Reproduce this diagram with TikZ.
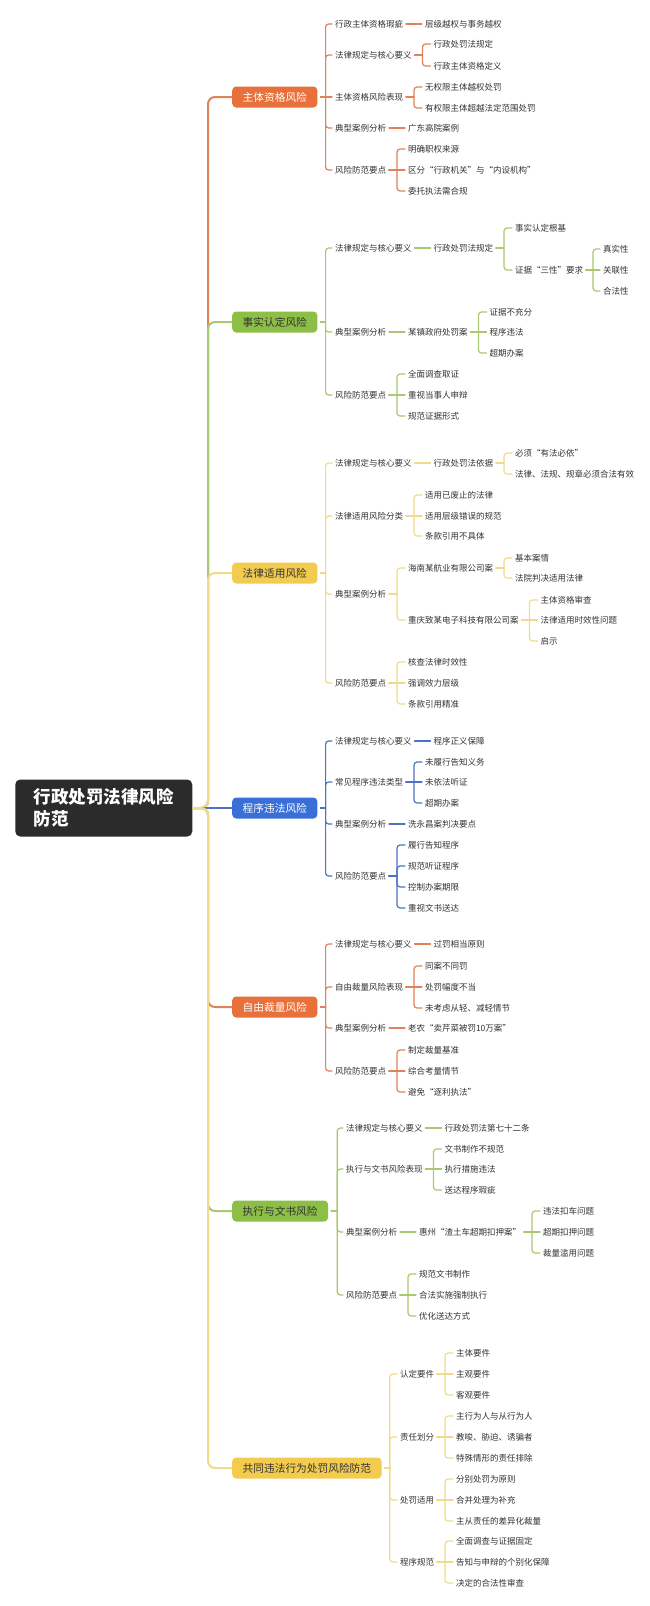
\documentclass[tikz,border=0pt]{standalone}
\usepackage{fontspec}
\newfontfamily\cjk{Noto Sans CJK SC}
\usetikzlibrary{calc}
\definecolor{cOr}{HTML}{E8703A}
\definecolor{cGr}{HTML}{8DBF46}
\definecolor{cYe}{HTML}{F3CB4F}
\definecolor{cBl}{HTML}{3A6FD8}
\definecolor{lOr}{HTML}{E0825A}
\definecolor{lGr}{HTML}{A9C870}
\definecolor{lYe}{HTML}{F1DB8A}
\definecolor{lBl}{HTML}{4E72C6}
\definecolor{rootc}{HTML}{2B2B2B}
\definecolor{leafc}{HTML}{333333}
\newcommand\kid[5][22]{\node[leaf] (#3) at ($(#2.east |- 0,#4)+(#1,0)$) {#5};}
\newcommand\lnk[4][11]{%
  \draw[lk,#2] ($(#3.east)+(3,0)$) -- ($(#3.east)+(#1,0)$);
  \draw[lk,#2,rounded corners=3pt] ($(#3.east)+(#1,0)$) |- ($(#4.west)+(-3,0)$);}
\newcommand\slnk[3]{\draw[lk,#1] ($(#2.east)+(3,0)$) -- ($(#3.west)+(-3,0)$);}
\begin{document}
\begin{tikzpicture}[x=1pt,y=-1pt,
  leaf/.style={font=\cjk\fontsize{8.5}{10}\selectfont, text=leafc, inner sep=0pt, outer sep=0pt, text height=7.1pt, text depth=0.6pt, anchor=west},
  mainbox/.style={font=\cjk\fontsize{10.7}{12}\selectfont, rounded corners=4pt, inner xsep=10.5pt, inner ysep=0pt, minimum height=21pt, text height=8.9pt, text depth=0.75pt, anchor=west},
  rootbox/.style={font=\cjk\bfseries\fontsize{17.5}{22}\selectfont, fill=rootc, text=white, rounded corners=5pt, align=left, minimum width=177pt, minimum height=57pt, inner sep=0pt},
  lk/.style={line width=1.2pt, line cap=round},
  trunk/.style={line width=2pt, rounded corners=7pt}
]
\useasboundingbox[fill=white] (0,0) rectangle (649,1606);

\node[rootbox] (root) at (103.75,808) {行政处罚法律风险\\防范};

% main nodes
\node[mainbox,fill=cOr,text=white] (b1) at (232,97) {主体资格风险};
\node[mainbox,fill=cGr,text=leafc] (b2) at (232,322) {事实认定风险};
\node[mainbox,fill=cYe,text=leafc] (b3) at (232,573) {法律适用风险};
\node[mainbox,fill=cBl,text=white] (b4) at (232,808) {程序违法风险};
\node[mainbox,fill=cOr,text=white] (b5) at (232,1007) {自由裁量风险};
\node[mainbox,fill=cGr,text=leafc] (b6) at (232,1211) {执行与文书风险};
\node[mainbox,fill=cYe,text=leafc] (b7) at (232,1468) {共同违法行为处罚风险防范};

% trunk
\draw[trunk,lOr] (root.east) -- (208,808) -- (208,97) -- (b1.west);
\draw[trunk,lGr] (root.east) -- (208,808) -- (208,322) -- (b2.west);
\draw[trunk,lYe] (root.east) -- (208,808) -- (208,573) -- (b3.west);
\draw[trunk,lBl] (root.east) -- (b4.west);
\draw[trunk,lOr] (root.east) -- (208,808) -- (208,1007) -- (b5.west);
\draw[trunk,lGr] (root.east) -- (208,808) -- (208,1211) -- (b6.west);
\draw[trunk,lYe] (root.east) -- (208,808) -- (208,1468) -- (b7.west);

% ---------- branch 1
\node[leaf] (b1a) at (335,24) {行政主体资格瑕疵};
\node[leaf] (b1b) at (335,55) {法律规定与核心要义};
\node[leaf] (b1c) at (335,97) {主体资格风险表现};
\node[leaf] (b1d) at (335,128) {典型案例分析};
\node[leaf] (b1e) at (335,170) {风险防范要点};
\foreach \c in {b1a,b1b,b1d,b1e}{\lnk[8]{lOr}{b1}{\c}}
\slnk{lOr}{b1}{b1c}
\kid{b1a}{b1a1}{24}{层级越权与事务越权}
\kid{b1b}{b1b1}{44}{行政处罚法规定}
\kid{b1b}{b1b2}{66}{行政主体资格定义}
\kid{b1c}{b1c1}{87}{无权限主体越权处罚}
\kid{b1c}{b1c2}{108}{有权限主体超越法定范围处罚}
\kid{b1d}{b1d1}{128}{广东高院案例}
\kid{b1e}{b1e1}{149}{明确职权来源}
\kid{b1e}{b1e2}{170}{区分“行政机关”与“内设机构”}
\kid{b1e}{b1e3}{191}{委托执法需合规}
\slnk{lOr}{b1a}{b1a1}
\lnk{lOr}{b1b}{b1b1}\lnk{lOr}{b1b}{b1b2}
\lnk{lOr}{b1c}{b1c1}\lnk{lOr}{b1c}{b1c2}
\slnk{lOr}{b1d}{b1d1}
\lnk{lOr}{b1e}{b1e1}\slnk{lOr}{b1e}{b1e2}\lnk{lOr}{b1e}{b1e3}

% ---------- branch 2
\node[leaf] (b2a) at (335,248) {法律规定与核心要义};
\node[leaf] (b2b) at (335,332) {典型案例分析};
\node[leaf] (b2c) at (335,395) {风险防范要点};
\foreach \c in {b2a,b2b,b2c}{\lnk[8]{lGr}{b2}{\c}}
\kid{b2a}{b2a1}{248}{行政处罚法规定}
\kid{b2a1}{b2a1a}{228}{事实认定根基}
\kid{b2a1}{b2a1b}{270}{证据“三性”要求}
\kid[20]{b2a1b}{b2x1}{249}{真实性}
\kid[20]{b2a1b}{b2x2}{270}{关联性}
\kid[20]{b2a1b}{b2x3}{291}{合法性}
\kid{b2b}{b2b1}{332}{某镇政府处罚案}
\kid{b2b1}{b2b1a}{312}{证据不充分}
\kid{b2b1}{b2b1b}{332}{程序违法}
\kid{b2b1}{b2b1c}{353}{超期办案}
\kid{b2c}{b2c1}{374}{全面调查取证}
\kid{b2c}{b2c2}{395}{重视当事人申辩}
\kid{b2c}{b2c3}{416}{规范证据形式}
\slnk{lGr}{b2a}{b2a1}
\lnk{lGr}{b2a1}{b2a1a}\lnk{lGr}{b2a1}{b2a1b}
\lnk[10]{lGr}{b2a1b}{b2x1}\slnk{lGr}{b2a1b}{b2x2}\lnk[10]{lGr}{b2a1b}{b2x3}
\slnk{lGr}{b2b}{b2b1}
\lnk{lGr}{b2b1}{b2b1a}\slnk{lGr}{b2b1}{b2b1b}\lnk{lGr}{b2b1}{b2b1c}
\lnk{lGr}{b2c}{b2c1}\slnk{lGr}{b2c}{b2c2}\lnk{lGr}{b2c}{b2c3}

% ---------- branch 3
\node[leaf] (b3a) at (335,463) {法律规定与核心要义};
\node[leaf] (b3b) at (335,516) {法律适用风险分类};
\node[leaf] (b3c) at (335,594) {典型案例分析};
\node[leaf] (b3d) at (335,683) {风险防范要点};
\foreach \c in {b3a,b3b,b3c,b3d}{\lnk[8]{lYe}{b3}{\c}}
\kid{b3a}{b3a1}{463}{行政处罚法依据}
\kid{b3a1}{b3a1a}{453}{必须“有法必依”}
\kid{b3a1}{b3a1b}{474}{法律、法规、规章必须合法有效}
\kid{b3b}{b3b1}{495}{适用已废止的法律}
\kid{b3b}{b3b2}{516}{适用层级错误的规范}
\kid{b3b}{b3b3}{536}{条款引用不具体}
\kid{b3c}{b3c1}{568}{海南某航业有限公司案}
\kid{b3c}{b3c2}{620}{重庆致某电子科技有限公司案}
\kid{b3c1}{b3c1a}{558}{基本案情}
\kid{b3c1}{b3c1b}{578}{法院判决适用法律}
\kid{b3c2}{b3c2a}{600}{主体资格审查}
\kid{b3c2}{b3c2b}{620}{法律适用时效性问题}
\kid{b3c2}{b3c2c}{641}{启示}
\kid{b3d}{b3d1}{662}{核查法律时效性}
\kid{b3d}{b3d2}{683}{强调效力层级}
\kid{b3d}{b3d3}{704}{条款引用精准}
\slnk{lYe}{b3a}{b3a1}
\lnk{lYe}{b3a1}{b3a1a}\lnk{lYe}{b3a1}{b3a1b}
\lnk{lYe}{b3b}{b3b1}\slnk{lYe}{b3b}{b3b2}\lnk{lYe}{b3b}{b3b3}
\lnk{lYe}{b3c}{b3c1}\lnk{lYe}{b3c}{b3c2}
\lnk{lYe}{b3c1}{b3c1a}\lnk{lYe}{b3c1}{b3c1b}
\lnk{lYe}{b3c2}{b3c2a}\slnk{lYe}{b3c2}{b3c2b}\lnk{lYe}{b3c2}{b3c2c}
\lnk{lYe}{b3d}{b3d1}\slnk{lYe}{b3d}{b3d2}\lnk{lYe}{b3d}{b3d3}

% ---------- branch 4
\node[leaf] (b4a) at (335,741) {法律规定与核心要义};
\node[leaf] (b4b) at (335,782) {常见程序违法类型};
\node[leaf] (b4c) at (335,824) {典型案例分析};
\node[leaf] (b4d) at (335,876) {风险防范要点};
\foreach \c in {b4a,b4b,b4c,b4d}{\lnk[8]{lBl}{b4}{\c}}
\kid{b4a}{b4a1}{741}{程序正义保障}
\kid{b4b}{b4b1}{762}{未履行告知义务}
\kid{b4b}{b4b2}{782}{未依法听证}
\kid{b4b}{b4b3}{803}{超期办案}
\kid{b4c}{b4c1}{824}{洗永昌案判决要点}
\kid{b4d}{b4d1}{845}{履行告知程序}
\kid{b4d}{b4d2}{866}{规范听证程序}
\kid{b4d}{b4d3}{887}{控制办案期限}
\kid{b4d}{b4d4}{908}{重视文书送达}
\slnk{lBl}{b4a}{b4a1}
\lnk{lBl}{b4b}{b4b1}\slnk{lBl}{b4b}{b4b2}\lnk{lBl}{b4b}{b4b3}
\slnk{lBl}{b4c}{b4c1}
\lnk{lBl}{b4d}{b4d1}\lnk{lBl}{b4d}{b4d2}\lnk{lBl}{b4d}{b4d3}\lnk{lBl}{b4d}{b4d4}

% ---------- branch 5
\node[leaf] (b5a) at (335,944) {法律规定与核心要义};
\node[leaf] (b5b) at (335,987) {自由裁量风险表现};
\node[leaf] (b5c) at (335,1028) {典型案例分析};
\node[leaf] (b5d) at (335,1071) {风险防范要点};
\foreach \c in {b5a,b5b,b5c,b5d}{\lnk[8]{lOr}{b5}{\c}}
\kid{b5a}{b5a1}{944}{过罚相当原则}
\kid{b5b}{b5b1}{966}{同案不同罚}
\kid{b5b}{b5b2}{987}{处罚幅度不当}
\kid{b5b}{b5b3}{1008}{未考虑从轻、减轻情节}
\kid{b5c}{b5c1}{1028}{老农“卖芹菜被罚10万案”}
\kid{b5d}{b5d1}{1050}{制定裁量基准}
\kid{b5d}{b5d2}{1071}{综合考量情节}
\kid{b5d}{b5d3}{1092}{避免“逐利执法”}
\slnk{lOr}{b5a}{b5a1}
\lnk{lOr}{b5b}{b5b1}\slnk{lOr}{b5b}{b5b2}\lnk{lOr}{b5b}{b5b3}
\slnk{lOr}{b5c}{b5c1}
\lnk{lOr}{b5d}{b5d1}\slnk{lOr}{b5d}{b5d2}\lnk{lOr}{b5d}{b5d3}

% ---------- branch 6
\node[leaf] (b6a) at (346,1128) {法律规定与核心要义};
\node[leaf] (b6b) at (346,1169) {执行与文书风险表现};
\node[leaf] (b6c) at (346,1232) {典型案例分析};
\node[leaf] (b6d) at (346,1295) {风险防范要点};
\foreach \c in {b6a,b6b,b6c,b6d}{\lnk[9]{lGr}{b6}{\c}}
\kid{b6a}{b6a1}{1128}{行政处罚法第七十二条}
\kid{b6b}{b6b1}{1149}{文书制作不规范}
\kid{b6b}{b6b2}{1169}{执行措施违法}
\kid{b6b}{b6b3}{1190}{送达程序瑕疵}
\kid{b6c}{b6c1}{1232}{惠州“渣土车超期扣押案”}
\kid{b6c1}{b6c1a}{1211}{违法扣车问题}
\kid{b6c1}{b6c1b}{1232}{超期扣押问题}
\kid{b6c1}{b6c1c}{1253}{裁量滥用问题}
\kid{b6d}{b6d1}{1274}{规范文书制作}
\kid{b6d}{b6d2}{1295}{合法实施强制执行}
\kid{b6d}{b6d3}{1316}{优化送达方式}
\slnk{lGr}{b6a}{b6a1}
\lnk{lGr}{b6b}{b6b1}\slnk{lGr}{b6b}{b6b2}\lnk{lGr}{b6b}{b6b3}
\slnk{lGr}{b6c}{b6c1}
\lnk{lGr}{b6c1}{b6c1a}\slnk{lGr}{b6c1}{b6c1b}\lnk{lGr}{b6c1}{b6c1c}
\lnk{lGr}{b6d}{b6d1}\slnk{lGr}{b6d}{b6d2}\lnk{lGr}{b6d}{b6d3}

% ---------- branch 7
\node[leaf] (b7a) at (400,1374) {认定要件};
\node[leaf] (b7b) at (400,1437) {责任划分};
\node[leaf] (b7c) at (400,1500) {处罚适用};
\node[leaf] (b7d) at (400,1562) {程序规范};
\foreach \c in {b7a,b7b,b7c,b7d}{\lnk[8]{lYe}{b7}{\c}}
\kid{b7a}{b7a1}{1353}{主体要件}
\kid{b7a}{b7a2}{1374}{主观要件}
\kid{b7a}{b7a3}{1395}{客观要件}
\kid{b7b}{b7b1}{1416}{主行为人与从行为人}
\kid{b7b}{b7b2}{1437}{教唆、胁迫、诱骗者}
\kid{b7b}{b7b3}{1458}{特殊情形的责任排除}
\kid{b7c}{b7c1}{1479}{分别处罚为原则}
\kid{b7c}{b7c2}{1500}{合并处理为补充}
\kid{b7c}{b7c3}{1521}{主从责任的差异化裁量}
\kid{b7d}{b7d1}{1541}{全面调查与证据固定}
\kid{b7d}{b7d2}{1562}{告知与申辩的个别化保障}
\kid{b7d}{b7d3}{1583}{决定的合法性审查}
\lnk{lYe}{b7a}{b7a1}\slnk{lYe}{b7a}{b7a2}\lnk{lYe}{b7a}{b7a3}
\lnk{lYe}{b7b}{b7b1}\slnk{lYe}{b7b}{b7b2}\lnk{lYe}{b7b}{b7b3}
\lnk{lYe}{b7c}{b7c1}\slnk{lYe}{b7c}{b7c2}\lnk{lYe}{b7c}{b7c3}
\lnk{lYe}{b7d}{b7d1}\slnk{lYe}{b7d}{b7d2}\lnk{lYe}{b7d}{b7d3}
\end{tikzpicture}
\end{document}
